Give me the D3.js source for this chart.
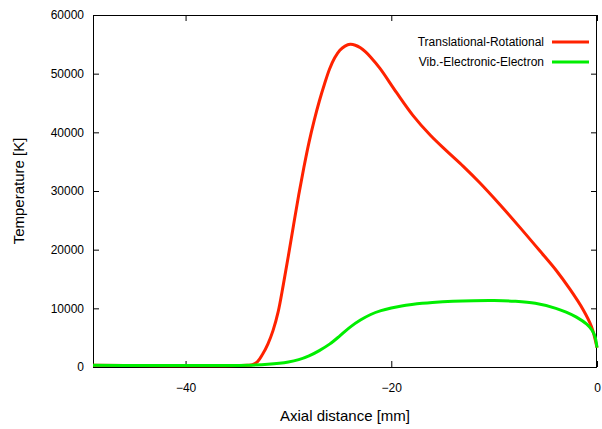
<!DOCTYPE html>
<html>
<head>
<meta charset="utf-8">
<script src="https://cdn.jsdelivr.net/npm/d3@7"></script>
<style>
  body { margin: 0; background: #fff; }
  text { font-family: "Liberation Sans", Arial, Helvetica, sans-serif; fill: #000; }
</style>
</head>
<body>
<svg id="chart" width="602" height="429"></svg>
<script>
// Data
const seriesNames = ["Translational-Rotational", "Vib.-Electronic-Electron"];
const seriesColors = ["#ff2200", "#00ee00"];

const transRotX = [-49, -34, -33.5, -33.0, -32.5, -32.0, -31.5, -31.0, -30.5, -30.0, -29.5, -29.0, -28.5, -28.0, -27.5, -27.0, -26.5, -26.0, -25.5, -25.0, -24.5, -24.0, -23.5, -23.0, -22.5, -22.0, -21.1, -19.5, -17.9, -16.2, -14.6, -13.0, -11.4, -9.45, -7.5, -5.56, -3.94, -2.65, -1.36, -0.54, 0];
const transRotT = [300, 300, 400, 900, 2200, 3900, 6200, 9400, 14000, 19000, 24200, 29300, 34000, 38300, 42000, 45300, 48200, 50800, 52700, 54000, 54700, 55000, 54850, 54400, 53700, 52800, 50900, 46800, 42900, 39500, 36800, 34200, 31400, 27700, 23800, 19800, 16400, 13300, 9800, 6900, 3300];

const vibElecX = [-49, -34, -32, -30, -29, -28, -27, -26, -25, -24, -23, -22, -21, -20, -19, -18, -17, -16, -14, -12, -10, -8, -6, -4, -3, -2, -1, -0.5, -0.2, 0];
const vibElecT = [300, 300, 450, 850, 1250, 1900, 2800, 3900, 5300, 6800, 8000, 8950, 9600, 10050, 10400, 10650, 10850, 11000, 11200, 11300, 11320, 11200, 10850, 10000, 9350, 8500, 7300, 6300, 5200, 3300];

const xTicks = [-40, -20, 0];
const yTicks = [0, 10000, 20000, 30000, 40000, 50000, 60000];
const xDomain = [-49, 0];
const yDomain = [0, 60000];

const svg = d3.select("#chart");
const margin = { left: 93, right: 5, top: 15, bottom: 62 };
const W = 602, H = 429;
const x = d3.scaleLinear().domain(xDomain).range([margin.left, W - margin.right]);
const y = d3.scaleLinear().domain(yDomain).range([H - margin.bottom, margin.top]);

const tickLen = 6;
// frame
svg.append("rect")
  .attr("x", x.range()[0] + 0.5).attr("y", y.range()[1] + 0.5)
  .attr("width", x.range()[1] - x.range()[0] - 1)
  .attr("height", y.range()[0] - y.range()[1])
  .attr("fill", "none").attr("stroke", "#000").attr("stroke-width", 1);

// axes with inward ticks (mirrored)
const gx = svg.append("g").attr("transform", `translate(0,${y.range()[0]})`)
  .call(d3.axisBottom(x).tickValues(xTicks).tickSize(-tickLen).tickPadding(tickLen + 10).tickFormat(d3.format("d")));
const gxTop = svg.append("g").attr("transform", `translate(0,${y.range()[1]})`)
  .call(d3.axisTop(x).tickValues(xTicks).tickSize(-tickLen).tickFormat(""));
const gy = svg.append("g").attr("transform", `translate(${x.range()[0]},0)`)
  .call(d3.axisLeft(y).tickValues(yTicks).tickSize(-tickLen).tickPadding(tickLen + 3).tickFormat(d3.format("d")));
const gyR = svg.append("g").attr("transform", `translate(${x.range()[1]},0)`)
  .call(d3.axisRight(y).tickValues(yTicks).tickSize(-tickLen).tickFormat(""));

[gx, gxTop, gy, gyR].forEach(g => {
  g.select(".domain").remove();
  g.selectAll(".tick line").attr("stroke", "#000");
  g.selectAll("text").attr("font-size", 12).attr("font-family", "Liberation Sans, Arial, sans-serif");
});
gx.selectAll(".tick text").attr("dy", "0.71em");

// lines
const line = d3.line().x(d => x(d[0])).y(d => y(d[1])).curve(d3.curveCatmullRom.alpha(0.5));
const series = [
  d3.zip(transRotX, transRotT),
  d3.zip(vibElecX, vibElecT)
];
series.forEach((s, i) => {
  svg.append("path").datum(s)
    .attr("fill", "none").attr("stroke", seriesColors[i])
    .attr("stroke-width", 3).attr("stroke-linejoin", "round")
    .attr("d", line);
});

// legend
seriesNames.forEach((n, i) => {
  const ly = 42 + i * 20;
  svg.append("text").attr("x", 544).attr("y", ly).attr("dy", "0.35em")
    .attr("text-anchor", "end").attr("font-size", 12).text(n);
  svg.append("line").attr("x1", 552).attr("x2", 589).attr("y1", ly).attr("y2", ly)
    .attr("stroke", seriesColors[i]).attr("stroke-width", 3);
});

// axis titles
svg.append("text").attr("x", (x.range()[0] + x.range()[1]) / 2).attr("y", 421)
  .attr("text-anchor", "middle").attr("font-size", 15).text("Axial distance [mm]");
svg.append("text")
  .attr("transform", `translate(24,${(y.range()[0] + y.range()[1]) / 2}) rotate(-90)`)
  .attr("text-anchor", "middle").attr("font-size", 15).text("Temperature [K]");
</script>
</body>
</html>
